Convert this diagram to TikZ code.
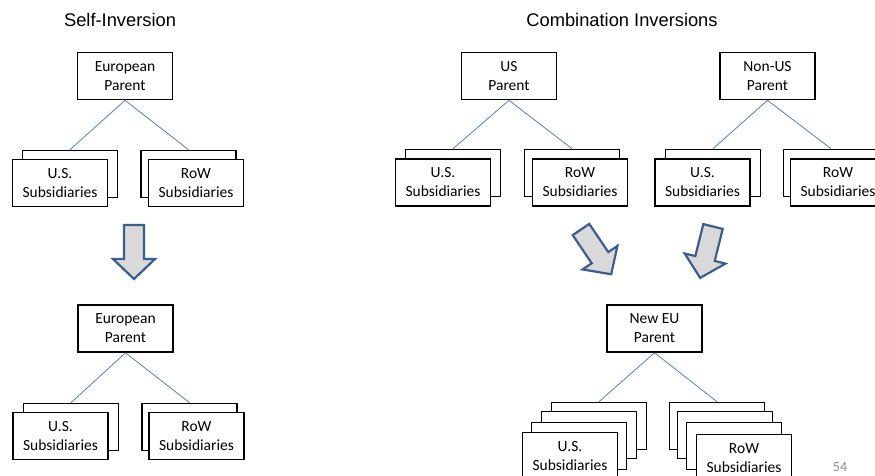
\documentclass[tikz,border=0pt]{standalone}
\usepackage{fontspec}
\setmainfont{Carlito}
\newfontfamily\titlefont{Liberation Sans}
\definecolor{connblue}{HTML}{4F81BD}
\definecolor{arrowblue}{HTML}{3B5E8C}
\definecolor{arrowfill}{HTML}{D9D9D9}
\definecolor{pagegray}{HTML}{8C8C8C}
\begin{document}
\begin{tikzpicture}[x=1pt,y=-1pt,
  sbox/.style={draw=black,line width=1.6pt,fill=white,minimum width=95pt,minimum height=47pt,
    inner sep=0pt,align=center,font=\fontsize{15.5}{19}\selectfont},
  conn/.style={draw=connblue,line width=0.8pt},
  title/.style={font=\titlefont\fontsize{18.3}{22}\selectfont},
  bigarrow/.style={draw=arrowblue,fill=arrowfill,line width=2.2pt,line join=miter}]
\useasboundingbox (0,0) rectangle (875,476);
\clip (0,0) rectangle (875,476);

% titles
\node[title] (t1) at (120,20) {Self-Inversion};
\node[title] (t2) at (622,20) {Combination Inversions};

% ---------- Self-inversion, top ----------
\node[sbox] (ep1) at (125,76) {European\\Parent};
\node[sbox] (us1b) at (70,174) {};
\node[sbox] (us1f) at (60,183) {U.S.\\Subsidiaries};
\node[sbox] (row1b) at (188.5,174) {};
\node[sbox] (row1f) at (196,183) {RoW\\Subsidiaries};
\draw[conn] (ep1.south) -- (us1b.north);
\draw[conn] (ep1.south) -- (row1b.north);

% arrow
\draw[bigarrow,shift={(134,225)}] (-10,0) -- (10,0) -- (10,34) -- (21,34) -- (0,54) -- (-21,34) -- (-10,34) -- cycle;

% ---------- Self-inversion, bottom ----------
\node[sbox] (ep2) at (125.5,328.5) {European\\Parent};
\node[sbox] (us2b) at (71,427) {};
\node[sbox] (us2f) at (60.5,436) {U.S.\\Subsidiaries};
\node[sbox] (row2b) at (189.5,427) {};
\node[sbox] (row2f) at (196.5,436) {RoW\\Subsidiaries};
\draw[conn] (ep2.south) -- (us2b.north);
\draw[conn] (ep2.south) -- (row2b.north);

% ---------- Combination: US parent ----------
\node[sbox] (usp) at (509,76) {US\\Parent};
\node[sbox] (us3b) at (453,173) {};
\node[sbox] (us3f) at (443,182.5) {U.S.\\Subsidiaries};
\node[sbox] (row3b) at (572,173) {};
\node[sbox] (row3f) at (580,182.5) {RoW\\Subsidiaries};
\draw[conn] (usp.south) -- (us3b.north);
\draw[conn] (usp.south) -- (row3b.north);

% ---------- Combination: Non-US parent ----------
\node[sbox] (nusp) at (767.5,76) {Non-US\\Parent};
\node[sbox] (us4b) at (713,173) {};
\node[sbox] (us4f) at (702.5,182.5) {U.S.\\Subsidiaries};
\node[sbox] (row4b) at (831,173) {};
\node[sbox] (row4f) at (838,182.5) {RoW\\Subsidiaries};
\draw[conn] (nusp.south) -- (us4b.north);
\draw[conn] (nusp.south) -- (row4b.north);

% arrows
\draw[bigarrow,shift={(581,229.5)},rotate=34] (-10,0) -- (10,0) -- (10,34) -- (21,34) -- (0,54) -- (-21,34) -- (-10,34) -- cycle;
\draw[bigarrow,shift={(713,226.5)},rotate=-14] (-10,0) -- (10,0) -- (10,33) -- (21,33) -- (0,53) -- (-21,33) -- (-10,33) -- cycle;

% ---------- New EU parent ----------
\node[sbox] (neu) at (654.5,328.5) {New EU\\Parent};
\node[sbox] (us5a) at (599,426) {};
\node[sbox] (us5b) at (589,435) {};
\node[sbox] (us5c) at (579,446) {};
\node[sbox] (us5d) at (570,456) {U.S.\\Subsidiaries};
\node[sbox] (row5a) at (717,426) {};
\node[sbox] (row5b) at (725,435) {};
\node[sbox] (row5c) at (734,446) {};
\node[sbox] (row5d) at (744,458) {RoW\\Subsidiaries};
\draw[conn] (neu.south) -- (us5a.north);
\draw[conn] (neu.south) -- (row5a.north);

% page number
\node[text=pagegray,font=\fontsize{14}{16}\selectfont] (pg) at (840,467) {54};
\end{tikzpicture}
\end{document}
